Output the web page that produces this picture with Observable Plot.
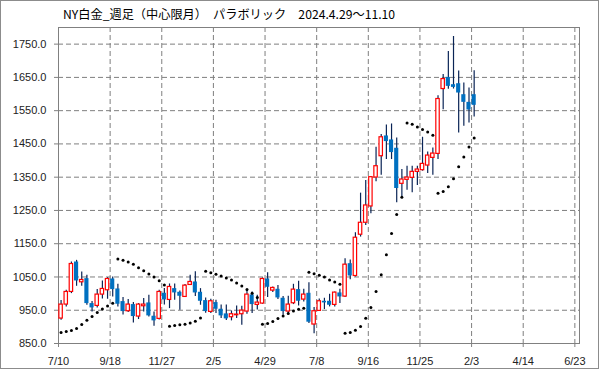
<!DOCTYPE html>
<html>
<head>
<meta charset="utf-8">
<script src="https://cdn.jsdelivr.net/npm/d3@7"></script>
<script src="https://cdn.jsdelivr.net/npm/@observablehq/plot@0.6"></script>
<style>
  html, body { margin: 0; padding: 0; background: #fff; }
  #wrap { position: relative; width: 599px; height: 369px; overflow: hidden; }
  #title { position: absolute; left: 63px; top: 7px; font: 12.2px "Noto Sans CJK JP", sans-serif; color: #000; white-space: pre; line-height: 14px; }
  #border { position: absolute; left: 0; top: 0; width: 597px; height: 367px; border: 1px solid #8c8c8c; pointer-events: none; }
</style>
</head>
<body>
<div id="wrap"><div id="chart"></div><div id="title"></div><div id="border"></div></div>
<script>
const titleText = "NY白金_週足（中心限月）　パラボリック　2024.4.29～11.10";
const xLabels = ["7/10","9/18","11/27","2/5","4/29","7/8","9/16","11/25","2/3","4/14","6/23"];
const yTicks = [850, 950, 1050, 1150, 1250, 1350, 1450, 1550, 1650, 1750];

const opens = [925,967,1005,1095,1034,1045,970,963,997,1010,1044,1014,976,947,967,931,962,972,932,924,1001,981,1015,1004,990,1026,1035,1004,979,945,973,953,939,929,935,938,946,996,966,970,1044,1009,1013,986,946,971,1012,982,1001,907,948,977,977,966,1002,991,1090,1053,1177,1213,1262,1349,1413,1474,1462,1437,1330,1342,1348,1366,1371,1385,1408,1420,1615,1650,1628,1631,1598,1575,1598];
const highs = [979,1010,1095,1100,1065,1055,976,1012,1038,1048,1050,1028,988,982,973,970,985,995,945,1010,1015,1029,1029,1008,1027,1055,1066,1015,987,983,980,966,966,948,963,962,1012,1005,995,1047,1063,1020,1024,991,992,1028,1037,1013,1033,958,984,986,998,1005,1013,1105,1101,1183,1302,1340,1352,1440,1478,1507,1510,1468,1373,1383,1383,1383,1470,1426,1438,1595,1659,1728,1773,1669,1633,1618,1670];
const lows = [920,960,1000,1022,1022,965,945,957,984,983,990,960,936,943,912,922,945,930,902,921,966,955,980,950,988,1024,991,965,941,940,940,925,919,918,925,905,938,940,951,968,988,1003,982,935,940,967,963,975,910,879,948,952,960,960,970,988,1042,1050,1170,1205,1240,1336,1356,1403,1403,1273,1290,1311,1303,1325,1368,1361,1356,1403,1553,1614,1615,1483,1503,1513,1531];
const closes = [967,1005,1089,1038,1041,970,957,997,1014,1044,1012,968,946,967,931,967,967,933,918,1005,981,1020,1002,992,1024,1035,1002,977,946,977,953,933,924,938,937,949,997,967,973,1044,1019,1017,987,946,967,1012,977,997,914,947,977,972,965,1003,990,1087,1053,1168,1213,1265,1350,1383,1470,1457,1424,1316,1343,1349,1366,1373,1390,1415,1421,1585,1645,1623,1620,1603,1575,1552,1566];
const sar = [883,886,889,895,907,920,931,943,954,963,971,
  1104,1100,1095,1088,1078,1069,1059,1050,1039,1026,
  902,904,906,908,912,917,927,
  1067,1063,1058,1053,1047,1041,1032,1023,1012,1001,988,
  908,910,916,925,933,940,948,953,956,
  1064,1060,1055,1050,1041,1035,1028,
  881,883,890,901,926,958,1006,1057,1117,1181,1238,1290,
  1513,1509,1501,1493,1486,1476,
  1302,1307,1321,1345,1381,1411,1441,1468];

document.getElementById("title").textContent = titleText;

const data = opens.map((o, i) => ({i, open: o, high: highs[i], low: lows[i], close: closes[i], sar: sar[i]}));
const ups = data.filter(d => d.close >= d.open);
const downs = data.filter(d => d.close < d.open);
const xTickPos = xLabels.map((_, k) => k * 10);

const gridStyle = {stroke: "#7f7f7f", strokeOpacity: 1, strokeDasharray: "5,3", strokeWidth: 1};

const chart = Plot.plot({
  width: 599,
  height: 369,
  marginLeft: 58,
  marginRight: 20,
  marginTop: 27,
  marginBottom: 26,
  style: {fontFamily: "Liberation Sans, sans-serif", fontSize: "11px", background: "white", color: "#222"},
  x: {type: "linear", domain: [0, 100.9]},
  y: {domain: [850, 1800]},
  marks: [
    Plot.gridX(xTickPos.slice(1), gridStyle),
    Plot.gridY(yTicks.slice(1), gridStyle),
    Plot.frame({stroke: "#808080"}),
    Plot.axisX(xTickPos, {tickFormat: d => xLabels[Math.round(d / 10)], tickSize: 4, tickPadding: 10, stroke: "#808080", fill: "#222", label: null}),
    Plot.axisY(yTicks, {tickFormat: d => d.toFixed(1), tickSize: 4, tickPadding: 8, stroke: "#808080", fill: "#222", label: null}),
    Plot.ruleX(data, {x: d => d.i + 0.5, y1: "low", y2: "high", stroke: "#0a2456", strokeWidth: 1.2}),
    Plot.rect(downs, {x1: d => d.i + 0.5 - 0.4, x2: d => d.i + 0.5 + 0.4, y1: "open", y2: "close", fill: "#0070C0"}),
    Plot.rect(ups, {x1: d => d.i + 0.5 - 0.33, x2: d => d.i + 0.5 + 0.33, y1: "open", y2: "close", fill: "white", stroke: "#ff0000", strokeWidth: 1.2}),
    Plot.dot(data, {x: d => d.i + 0.5, y: "sar", r: 1.5, fill: "#000", stroke: "none"})
  ]
});
document.getElementById("chart").appendChild(chart);
</script>
</body>
</html>
